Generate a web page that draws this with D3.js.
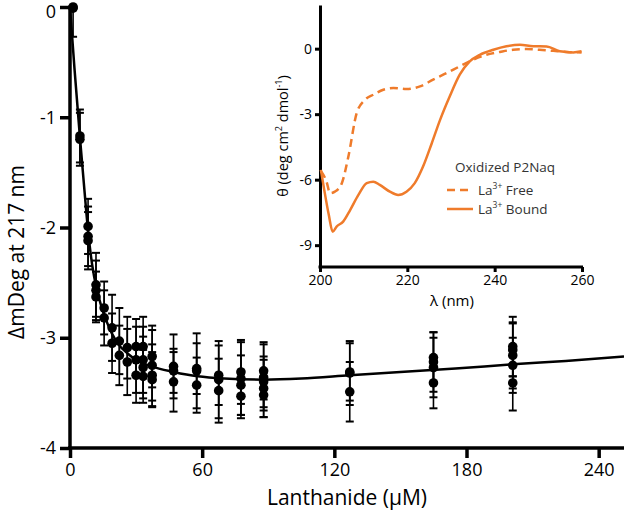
<!DOCTYPE html>
<html>
<head>
<meta charset="utf-8">
<script src="https://cdn.jsdelivr.net/npm/d3@7"></script>
<style>
  body { margin: 0; background: #fff; }
  text { font-family: "Open Sans", sans-serif; }
</style>
</head>
<body>
<div id="vis"></div>
<script>
"use strict";
// titration: lanthanide concentration (uM), replicate values and their SDs
const conc = [1.4, 4.5, 8.2, 11.8, 15.5, 19.1, 22.4, 26, 30, 33.2, 37.3, 47, 57.5, 67.5, 77.6, 87.9, 127, 165, 201];
const repY = [
  [0, -0.01], [-1.17, -1.2], [-1.99, -2.08, -2.12], [-2.52, -2.57, -2.63],
  [-2.73, -2.82], [-2.91, -3.05], [-3.03, -3.16], [-3.09, -3.22],
  [-3.08, -3.2, -3.34], [-3.08, -3.2, -3.27, -3.35], [-3.17, -3.25, -3.34, -3.38],
  [-3.26, -3.3, -3.4], [-3.28, -3.3, -3.43], [-3.34, -3.38, -3.48],
  [-3.31, -3.37, -3.43, -3.53], [-3.3, -3.36, -3.4, -3.46, -3.52],
  [-3.31, -3.32, -3.49], [-3.18, -3.22, -3.27, -3.41], [-3.08, -3.11, -3.16, -3.25, -3.41]
];
const repErr = [
  [0.02, 0.26], [0.24, 0.24], [0.25, 0.27, 0.26], [0.29, 0.27, 0.23],
  [0.24, 0.25], [0.3, 0.27], [0.3, 0.27], [0.28, 0.3],
  [0.25, 0.3, 0.25], [0.27, 0.3, 0.28, 0.24], [0.28, 0.32, 0.28, 0.25],
  [0.29, 0.2, 0.27], [0.23, 0.34, 0.25], [0.27, 0.35, 0.29],
  [0.29, 0.33, 0.27, 0.2], [0.26, 0.3, 0.23, 0.26, 0.2],
  [0.26, 0.29, 0.27], [0.23, 0.27, 0.27, 0.23], [0.27, 0.24, 0.3, 0.25, 0.25]
];
// fitted curve
const fitX = [0, 2, 4.5, 6.5, 8.2, 10, 12, 14, 16, 19, 22, 26, 30, 37, 47, 58, 70, 88, 105, 127, 150, 175, 201, 225, 251.5];
const fitY = [0, -0.55, -1.18, -1.65, -2.03, -2.33, -2.55, -2.7, -2.82, -2.96, -3.06, -3.14, -3.2, -3.26, -3.31, -3.35, -3.37, -3.38, -3.37, -3.34, -3.31, -3.28, -3.24, -3.21, -3.17];
const mainXTicks = [0, 60, 120, 180, 240];
const mainYTicks = [0, -1, -2, -3, -4];

// inset CD spectra
const boundNm = [200.2, 201, 202, 202.9, 203.8, 205.3, 206.9, 208.8, 210.7, 212.2, 213.7, 216, 217.9, 219.8, 221.7, 223.6, 225.6, 227.5, 229.7, 232, 234.3, 236.6, 239.7, 242.7, 245.8, 248.8, 251.9, 254.9, 258, 259.9];
const boundTh = [-5.55, -6.5, -7.6, -8.38, -8.15, -7.92, -7.39, -6.7, -6.16, -6.09, -6.24, -6.55, -6.7, -6.55, -6.16, -5.4, -4.33, -3.26, -2.19, -1.19, -0.58, -0.28, -0.05, 0.11, 0.18, 0.11, 0.1, -0.12, -0.17, -0.12];
const freeNm = [200.2, 201.5, 202.3, 203.4, 205, 206.5, 208.4, 210.3, 212.2, 214.5, 216.8, 219.8, 222.9, 225.9, 229, 232, 235.1, 238.1, 241.2, 244.2, 247.3, 250.3, 253.4, 256.4, 259.9];
const freeTh = [-5.6, -6.09, -6.62, -6.55, -6.16, -4.94, -2.95, -2.34, -2.11, -1.88, -1.8, -1.85, -1.73, -1.42, -1.12, -0.81, -0.5, -0.28, -0.15, -0.05, -0.02, -0.05, -0.1, -0.15, -0.17];
const insetXTicks = [200, 220, 240, 260];
const insetYTicks = [0, -3, -6, -9];

const [width, height] = [624, 517];
const orange = "#ef7b2b";
const fmt = d => String(d); // plain hyphen minus like the original
const svg = d3.select("#vis").append("svg")
  .attr("width", width).attr("height", height);

// ---- main chart
const x = d3.scaleLinear().domain([0, 251.5]).range([70, 624]);
const y = d3.scaleLinear().domain([-4, 0]).range([448, 7]);

const gx = svg.append("g").attr("transform", "translate(0,448)")
  .call(d3.axisBottom(x).tickValues(mainXTicks).tickFormat(fmt).tickSize(10).tickPadding(5).tickSizeOuter(0));
const gy = svg.append("g").attr("transform", "translate(70,0)")
  .call(d3.axisLeft(y).tickValues(mainYTicks).tickFormat(fmt).tickSize(10).tickPadding(4).tickSizeOuter(0));
[gx, gy].forEach(g => {
  g.select(".domain").attr("stroke-width", 3.5);
  g.selectAll(".tick line").attr("stroke-width", 3.5);
  g.selectAll(".tick text").attr("font-size", 18).attr("fill", "#000");
});
gx.select(".domain").attr("d", "M68,0H624");
gy.select(".domain").attr("d", "M0,5.5V450");
gy.selectAll(".tick text").filter(d => d === 0).attr("dy", "0.58em");

svg.append("text").attr("x", 347).attr("y", 505).attr("text-anchor", "middle")
  .attr("font-size", 21).text("Lanthanide (\u03bcM)");
svg.append("text").attr("transform", "translate(24,252) rotate(-90)")
  .attr("text-anchor", "middle").attr("font-size", 21).text("\u0394mDeg at 217 nm");

const pts = [];
conc.forEach((c, i) => repY[i].forEach((v, j) => pts.push({c, v, e: repErr[i][j]})));

const eb = svg.append("g").attr("stroke", "#000");
eb.selectAll("line.bar").data(pts).join("line").attr("class", "bar")
  .attr("x1", d => x(d.c)).attr("x2", d => x(d.c))
  .attr("y1", d => y(Math.min(0, d.v + d.e))).attr("y2", d => y(d.v - d.e))
  .attr("stroke-width", 1.6);
const caps = pts.flatMap(d => (d.v + d.e < 0.01 ? [d.v + d.e] : []).concat([d.v - d.e]).map(v => ({c: d.c, v})));
eb.selectAll("line.cap").data(caps).join("line").attr("class", "cap")
  .attr("x1", d => x(d.c) - 4).attr("x2", d => x(d.c) + 4)
  .attr("y1", d => y(d.v)).attr("y2", d => y(d.v))
  .attr("stroke-width", 2);

svg.append("path")
  .datum(fitX.map((v, i) => [v, fitY[i]]))
  .attr("fill", "none").attr("stroke", "#000").attr("stroke-width", 2.5)
  .attr("d", d3.line().x(d => x(d[0])).y(d => y(d[1])).curve(d3.curveMonotoneX));

svg.append("g").selectAll("circle").data(pts).join("circle")
  .attr("cx", d => x(d.c)).attr("cy", d => y(d.v)).attr("r", 4.8).attr("fill", "#000");

// ---- inset
const ix = d3.scaleLinear().domain([200, 260]).range([320, 582]);
const iy = d3.scaleLinear().domain([-10, 2]).range([267, 5]);
const igx = svg.append("g").attr("transform", "translate(0,267)")
  .call(d3.axisBottom(ix).tickValues(insetXTicks).tickFormat(fmt).tickSize(5).tickPadding(3).tickSizeOuter(0));
const igy = svg.append("g").attr("transform", "translate(320,0)")
  .call(d3.axisLeft(iy).tickValues(insetYTicks).tickFormat(fmt).tickSize(5).tickPadding(3).tickSizeOuter(0));
[igx, igy].forEach(g => {
  g.select(".domain").attr("stroke-width", 3);
  g.selectAll(".tick line").attr("stroke-width", 3);
  g.selectAll(".tick text").attr("font-size", 14).attr("fill", "#000");
});
igx.select(".domain").attr("d", "M318.5,0H583");

svg.append("text").attr("x", 452).attr("y", 306).attr("text-anchor", "middle")
  .attr("font-size", 15).text("\u03bb (nm)");
const ylab = svg.append("text").attr("transform", "translate(288,136) rotate(-90)")
  .attr("text-anchor", "middle").attr("font-size", 14.5);
ylab.append("tspan").text("\u03b8 (deg cm");
ylab.append("tspan").attr("font-size", 9).attr("dy", -6).text("2");
ylab.append("tspan").attr("dy", 6).text(" dmol");
ylab.append("tspan").attr("font-size", 9).attr("dy", -6).text("-1");
ylab.append("tspan").attr("dy", 6).text(")");

const iline = d3.line().x(d => ix(d[0])).y(d => iy(d[1])).curve(d3.curveMonotoneX);
svg.append("path").datum(freeNm.map((v, i) => [v, freeTh[i]]))
  .attr("fill", "none").attr("stroke", orange).attr("stroke-width", 2.5)
  .attr("stroke-dasharray", "8,5").attr("d", iline);
svg.append("path").datum(boundNm.map((v, i) => [v, boundTh[i]]))
  .attr("fill", "none").attr("stroke", orange).attr("stroke-width", 2.5)
  .attr("d", iline);

// legend
const leg = svg.append("g").attr("font-size", 13.5).attr("fill", "#333");
leg.append("text").attr("x", 455).attr("y", 172).text("Oxidized P2Naq");
const items = [{name: "Free", dash: "8,5", yy: 190}, {name: "Bound", dash: null, yy: 209}];
items.forEach(it => {
  leg.append("line").attr("x1", 447).attr("x2", 473).attr("y1", it.yy).attr("y2", it.yy)
    .attr("stroke", orange).attr("stroke-width", 2.5).attr("stroke-dasharray", it.dash);
  const t = leg.append("text").attr("x", 478).attr("y", it.yy + 5);
  t.append("tspan").text("La");
  t.append("tspan").attr("font-size", 8.5).attr("dy", -6).text("3+");
  t.append("tspan").attr("dy", 6).text(" " + it.name);
});
</script>
</body>
</html>
